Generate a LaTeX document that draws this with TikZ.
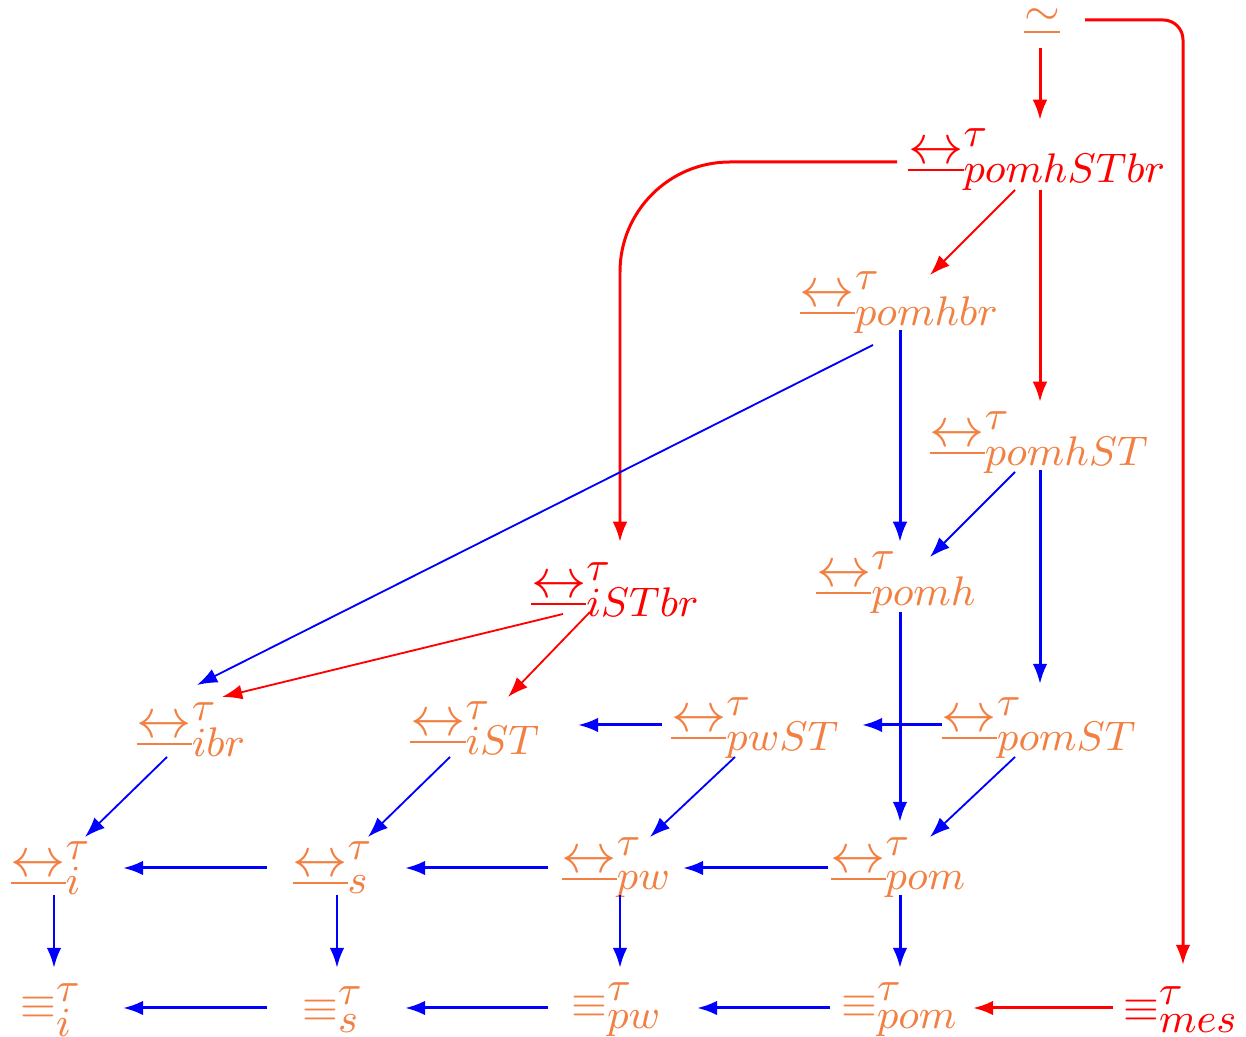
\documentclass[tikz,border=0pt]{standalone}
\usetikzlibrary{arrows.meta}
\DeclareMathSizes{10}{10}{9.5}{7}
\definecolor{relorange}{RGB}{242,128,66}
\newcommand{\bisarrow}{\underline{\hbox{\fontsize{12}{14}\selectfont$\leftrightarrow$}}}
\newcommand{\tbis}[1]{{\bisarrow}^{\tau}_{\lower1.3pt\hbox{$\scriptstyle #1$}}}
\newcommand{\teqv}[1]{\equiv^{\tau}_{#1}}
\tikzset{
  obj/.style={inner sep=0pt, text=relorange},
  keyobj/.style={inner sep=0pt, text=red},
  tip/.style={-{Latex[length=4.4pt,width=3.2pt]}},
  straight/.style={tip, line width=0.65pt},
  slant/.style={tip, line width=0.4pt},
  redline/.style={straight, red},
  redslant/.style={slant, red},
  blueline/.style={straight, blue},
  blueslant/.style={slant, blue}
}
\begin{document}
\begin{tikzpicture}[x=0.21739pt,y=-0.21739pt]
\useasboundingbox (0,0) rectangle (1246,1037);

% relations
\node[obj]    (sim)   at (1042,22)  {$\underline{\sim}$};
\node[keyobj] (hSTbr) at (1038,160) {$\tbis{pomhSTbr}$};
\node[obj]    (hbr)   at (900,303)  {$\tbis{pomhbr}$};
\node[obj]    (hST)   at (1040,443) {$\tbis{pomhST}$};
\node[keyobj] (iSTbr) at (616,590)  {$\tbis{iSTbr}$};
\node[obj]    (h)     at (897,583)  {$\tbis{pomh}$};
\node[obj]    (ibr)   at (192,730)  {$\tbis{ibr}$};
\node[obj]    (iST)   at (476,728)  {$\tbis{iST}$};
\node[obj]    (pwST)  at (756,728)  {$\tbis{pwST}$};
\node[obj]    (pomST) at (1040,728) {$\tbis{pomST}$};
\node[obj]    (i)     at (51,868)   {$\tbis{i}$};
\node[obj]    (s)     at (333,868)  {$\tbis{s}$};
\node[obj]    (pw)    at (617,868)  {$\tbis{pw}$};
\node[obj]    (pom)   at (899,868)  {$\tbis{pom}$};
\node[obj]    (ei)    at (51,1010)  {$\teqv{i}$};
\node[obj]    (es)    at (333,1010) {$\teqv{s}$};
\node[obj]    (epw)   at (617,1010) {$\teqv{pw}$};
\node[obj]    (epom)  at (900,1010) {$\teqv{pom}$};
\node[keyobj] (emes)  at (1181,1010) {$\teqv{mes}$};

% red implications
\draw[redline] ([shift={(-2,26)}]sim.center) -- ([shift={(2,-40)}]hSTbr.center);
\draw[redline, rounded corners=4.3pt] ([shift={(43,-2)}]sim.center) -| ([shift={(2,-45)}]emes.center);
\draw[redline, rounded corners=23.9pt] ([shift={(-141,2)}]hSTbr.center) -| ([shift={(4,-48)}]iSTbr.center);
\draw[redslant] ([shift={(-23,30)}]hSTbr.center) -- ([shift={(30,-28)}]hbr.center);
\draw[redline] ([shift={(2,30)}]hSTbr.center) -- ([shift={(0,-41)}]hST.center);
\draw[redslant] ([shift={(-53,24)}]iSTbr.center) -- ([shift={(30,-33)}]ibr.center);
\draw[redslant] ([shift={(-26,22)}]iSTbr.center) -- ([shift={(32,-31)}]iST.center);
\draw[redline] ([shift={(-68,-2)}]emes.center) -- ([shift={(73,-2)}]epom.center);

% blue implications
\draw[blueslant] ([shift={(-27,42)}]hbr.center) -- ([shift={(5,-45)}]ibr.center);
\draw[blueline] ([shift={(0,27)}]hbr.center) -- ([shift={(3,-41)}]h.center);
\draw[blueslant] ([shift={(-25,29)}]hST.center) -- ([shift={(33,-26)}]h.center);
\draw[blueline] ([shift={(0,27)}]hST.center) -- ([shift={(0,-44)}]pomST.center);
\draw[blueline] ([shift={(3,29)}]h.center) -- ([shift={(1,-46)}]pom.center);
\draw[blueline] ([shift={(-98,-3)}]pomST.center) -- ([shift={(106,-3)}]pwST.center);
\draw[blueline] ([shift={(-94,-3)}]pwST.center) -- ([shift={(102,-3)}]iST.center);
\draw[blueslant] ([shift={(-25,29)}]pomST.center) -- ([shift={(31,-31)}]pom.center);
\draw[blueslant] ([shift={(-21,29)}]pwST.center) -- ([shift={(33,-31)}]pw.center);
\draw[blueslant] ([shift={(-26,29)}]iST.center) -- ([shift={(35,-31)}]s.center);
\draw[blueslant] ([shift={(-25,27)}]ibr.center) -- ([shift={(34,-31)}]i.center);
\draw[blueline] ([shift={(-71,0)}]pom.center) -- ([shift={(66,0)}]pw.center);
\draw[blueline] ([shift={(-69,0)}]pw.center) -- ([shift={(72,0)}]s.center);
\draw[blueline] ([shift={(-66,0)}]s.center) -- ([shift={(72,0)}]i.center);
\draw[blueline] ([shift={(3,27)}]i.center) -- ([shift={(3,-42)}]ei.center);
\draw[blueline] ([shift={(4,27)}]s.center) -- ([shift={(4,-42)}]es.center);
\draw[blueline] ([shift={(3,27)}]pw.center) -- ([shift={(3,-42)}]epw.center);
\draw[blueline] ([shift={(1,27)}]pom.center) -- ([shift={(0,-42)}]epom.center);
\draw[blueline] ([shift={(-70,-2)}]epom.center) -- ([shift={(80,-2)}]epw.center);
\draw[blueline] ([shift={(-69,-2)}]epw.center) -- ([shift={(72,-2)}]es.center);
\draw[blueline] ([shift={(-66,-2)}]es.center) -- ([shift={(72,-2)}]ei.center);
\end{tikzpicture}
\end{document}
